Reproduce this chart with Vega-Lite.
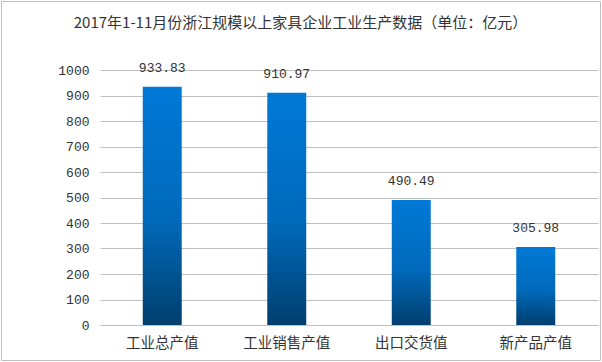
{
  "$schema": "https://vega.github.io/schema/vega-lite/v6.json",
  "autosize": "none",
  "width": 599,
  "height": 359,
  "padding": {"left": 1, "top": 1, "right": 2, "bottom": 2},
  "background": "white",
  "config": {
    "view": {"stroke": "#BFBFBF", "strokeWidth": 1},
    "font": "Noto Sans CJK SC"
  },
  "title": {
    "text": "2017年1-11月份浙江规模以上家具企业工业生产数据（单位：亿元）",
    "font": "Noto Sans CJK SC",
    "fontSize": 15,
    "fontWeight": "normal",
    "color": "#333333",
    "anchor": "middle",
    "offset": -30
  },
  "data": {
    "values": [
      {"item": "工业总产值", "value": 933.83},
      {"item": "工业销售产值", "value": 910.97},
      {"item": "出口交货值", "value": 490.49},
      {"item": "新产品产值", "value": 305.98}
    ]
  },
  "encoding": {
    "x": {
      "field": "item",
      "type": "nominal",
      "sort": null,
      "scale": {"range": [99, 597], "paddingInner": 0.687, "paddingOuter": 0.3435},
      "axis": {
        "title": null,
        "orient": "bottom",
        "offset": -35,
        "labelAngle": 0,
        "domainColor": "#BFBFBF",
        "ticks": false,
        "tickSize": 0,
        "labelPadding": 11,
        "labelFont": "Noto Sans CJK SC",
        "labelFontSize": 14.5,
        "labelColor": "#333333",
        "grid": false
      }
    },
    "y": {
      "field": "value",
      "type": "quantitative",
      "scale": {"domain": [0, 1000], "range": [324, 69], "nice": false},
      "axis": {
        "title": null,
        "offset": -99,
        "values": [0, 100, 200, 300, 400, 500, 600, 700, 800, 900, 1000],
        "format": "d",
        "domain": false,
        "ticks": false,
        "tickSize": 0,
        "labelPadding": 11,
        "labelFont": "Liberation Mono",
        "labelFontSize": 13,
        "labelColor": "#333333",
        "gridColor": "#C0C0C0",
        "gridWidth": 1
      }
    }
  },
  "layer": [
    {
      "mark": {
        "type": "bar",
        "color": {
          "gradient": "linear",
          "x1": 0, "y1": 0, "x2": 0, "y2": 1,
          "stops": [
            {"offset": 0, "color": "#0079D6"},
            {"offset": 0.55, "color": "#006AbC"},
            {"offset": 1, "color": "#003F6E"}
          ]
        }
      }
    },
    {
      "mark": {
        "type": "text",
        "baseline": "bottom",
        "dy": -12,
        "font": "Liberation Mono",
        "fontSize": 13,
        "color": "#333333"
      },
      "encoding": {"text": {"field": "value", "type": "quantitative", "format": ".2f"}}
    }
  ]
}
